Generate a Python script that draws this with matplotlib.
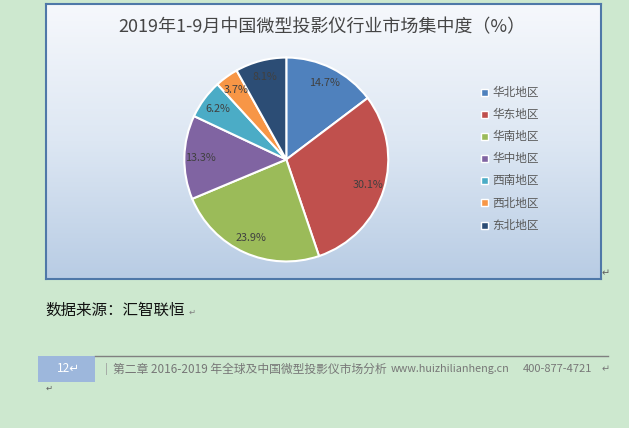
import numpy as np
import matplotlib
matplotlib.use('Agg')
import matplotlib.pyplot as plt
import matplotlib.patches as patches

plt.rcParams['font.family'] = ['Noto Sans CJK SC', 'DejaVu Sans']

# dados do gráfico
regioes = ['华北地区', '华东地区', '华南地区', '华中地区', '西南地区', '西北地区', '东北地区']
valores = [14.7, 30.1, 23.9, 13.3, 6.2, 3.7, 8.1]
cores = ['#4F81BD', '#C0504D', '#9BBB59', '#8064A2', '#4BACC6', '#F79646', '#2C4D75']
titulo = '2019年1-9月中国微型投影仪行业市场集中度（%）'

W, H = 629, 428
fig = plt.figure(figsize=(W / 100, H / 100), dpi=100)
fig.patch.set_facecolor('#cde8cf')


def px_axes(x0, y0, x1, y1):
    # retângulo em pixels (origem no topo) -> fração da figura
    return fig.add_axes([x0 / W, 1 - y1 / H, (x1 - x0) / W, (y1 - y0) / H])


# área do gráfico com gradiente
bg = px_axes(46, 4, 601, 279)
grad = np.linspace(0, 1, 256).reshape(-1, 1)
cmap = matplotlib.colors.LinearSegmentedColormap.from_list(
    'g', ['#f6f8fc', '#dde7f3', '#b8cce4'])
bg.imshow(grad, aspect='auto', cmap=cmap, extent=[0, 1, 0, 1], origin='upper')
bg.set_xticks([])
bg.set_yticks([])
for s in bg.spines.values():
    s.set_color('#4f78a8')
    s.set_linewidth(1.5)

bg.text(0.497, 0.915, titulo, transform=bg.transAxes, ha='center', va='center',
        fontsize=13, color='#454545')

# pizza
cx, cy, R = 286.3, 159.5, 104
ax = px_axes(cx - R, cy - R, cx + R, cy + R)
ax.set_facecolor('none')
wedges, _, autotexts = ax.pie(
    valores, colors=cores, startangle=90, counterclock=False,
    autopct='%.1f%%', pctdistance=0.84,
    wedgeprops=dict(edgecolor='white', linewidth=1.5),
    textprops=dict(fontsize=7.8, color='#404040'))
ax.set_xlim(-1.02, 1.02)
ax.set_ylim(-1.02, 1.02)
ax.set_aspect('equal')
ax.axis('off')

# legenda manual
y0, dy = 92.5, 22.1
for i, (nome, cor) in enumerate(zip(regioes, cores)):
    y = y0 + i * dy
    fig.patches.append(patches.Rectangle(
        (480.5 / W, 1 - (y + 3.5) / H), 7 / W, 7 / H,
        transform=fig.transFigure, facecolor=cor, edgecolor='white', lw=1))
    fig.text(492 / W, 1 - y / H, nome, ha='left', va='center',
             fontsize=8.4, color='#595959')

fig.text(602 / W, 1 - 273 / H, '↵', fontsize=7, color='#606060', va='center')

# fonte
fig.text(45 / W, 1 - 310 / H, '数据来源：汇智联恒', fontsize=11.2,
         color='#111111', va='center')
fig.text(189 / W, 1 - 312 / H, '↵', fontsize=6, color='#808080', va='center')

# rodapé
fig.patches.append(patches.Rectangle(
    (38 / W, 1 - 381.5 / H), 57 / W, 25.5 / H, transform=fig.transFigure,
    facecolor='#9db7dc', edgecolor='none'))
fig.lines.append(plt.Line2D([95 / W, 607.5 / W], [1 - 356 / H, 1 - 356 / H],
                            transform=fig.transFigure, color='#808080', lw=1))
fig.text(68 / W, 1 - 369 / H, '12↵', fontsize=8.5, color='white',
         ha='center', va='center')
fig.text(106 / W, 1 - 369 / H, '|', fontsize=8, color='#9a9a9a', ha='center',
         va='center')
fig.text(113 / W, 1 - 369 / H, '第二章 2016-2019 年全球及中国微型投影仪市场分析',
         fontsize=8.5, color='#777777', va='center')
fig.text(391 / W, 1 - 369 / H, 'www.huizhilianheng.cn', fontsize=7.8,
         color='#777777', va='center')
fig.text(523 / W, 1 - 369 / H, '400-877-4721', fontsize=8.0, color='#777777',
         va='center')
fig.text(602 / W, 1 - 369 / H, '↵', fontsize=7, color='#777777', va='center')
fig.text(46 / W, 1 - 388 / H, '↵', fontsize=6, color='#606060', va='center')

fig.savefig('out.png', dpi=100)
plt.close(fig)
